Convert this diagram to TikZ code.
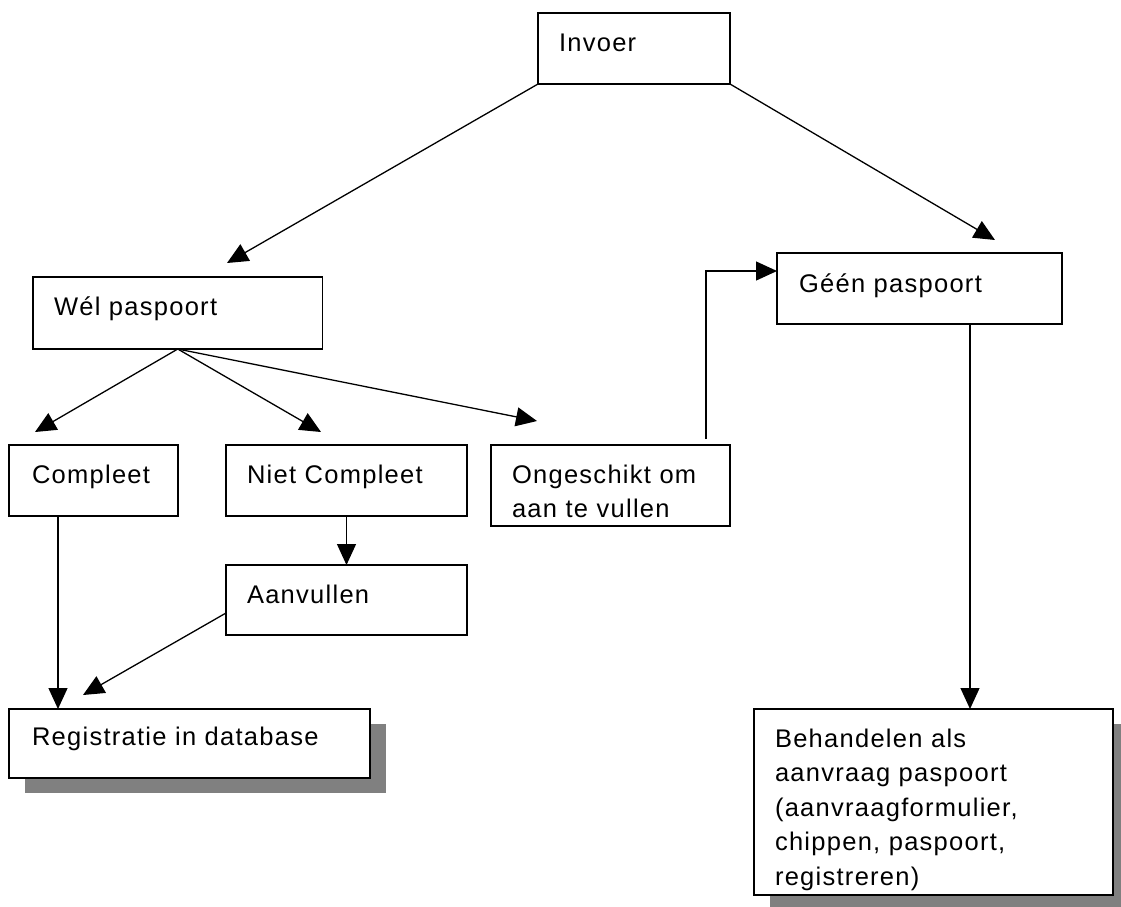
\documentclass[tikz,border=0pt]{standalone}
\usepackage{fontspec}
\setmainfont[LetterSpace=5]{Liberation Sans}
\usetikzlibrary{arrows.meta,calc,shadows}
\definecolor{shadowgray}{HTML}{808080}
\begin{document}
\begin{tikzpicture}[x=1pt,y=-1pt,
  box/.style={draw, line width=1.5pt, fill=white, anchor=north west, align=left,
    inner ysep=0pt, outer sep=0pt, inner xsep=21pt, text height=38pt, text depth=33pt,
    font=\fontsize{25.5pt}{34.5pt}\selectfont},
  conn/.style={line width=1.3pt, -{Triangle[length=21pt,width=19pt]}},
  shadowed/.style={drop shadow={shadow xshift=16pt, shadow yshift=-15pt, fill=shadowgray, opacity=1}}
]
\useasboundingbox (0,0) rectangle (1121,906);
\clip (0,0) rectangle (1121,906);

% boxes
\node[box, text width=150pt] (inv) at (538,13) {Invoer};
\node[box, text width=247.5pt, text depth=34pt] (wel) at (33,277) {Wél~paspoort};
\node[box, inner xsep=23pt, text width=123pt] (comp) at (9,445) {Compleet};
\node[box, text width=199pt] (niet) at (226,445) {Niet~Compleet};
\node[box, text width=199pt, text depth=32pt] (aan) at (226,565) {Aanvullen};
\node[box, text width=197pt, text depth=43pt] (ong) at (491,445) {Ongeschikt~om\\aan~te~vullen};
\node[box, inner xsep=22pt, text width=241pt, text height=39pt, text depth=32pt] (geen) at (777,253) {Géén~paspoort};
\node[box, shadowed, inner xsep=23pt, text width=315pt, text height=36pt] (reg) at (9,709) {Registratie~in~database};
\node[box, shadowed, text width=317pt, text depth=148pt] (beh) at (754,709)
  {Behandelen~als\\aanvraag~paspoort\\(aanvraagformulier,\\chippen,~paspoort,\\registreren)};

% free ends of connectors
\coordinate (t1) at (227,263);
\coordinate (t2) at (995,240);
\coordinate (t3) at (35,432);
\coordinate (t4) at (321,432);
\coordinate (t5) at (537,421);
\coordinate (t6) at (83,695);
\coordinate (c1) at ($(comp.south west)+(49,0)$);
\coordinate (o1) at ($(ong.north west)+(215,-6)$);
\coordinate (o2) at ($(geen.north west)+(0,18)$);
\coordinate (g1) at ($(geen.south west)+(193,0)$);
\coordinate (a1) at ($(aan.north west)+(0,48)$);

% connectors
\draw[conn] (inv.south west) -- (t1);
\draw[conn] (inv.south east) -- (t2);
\draw[conn] (wel.south) -- (t3);
\draw[conn] (wel.south) -- (t4);
\draw[conn] (wel.south) -- (t5);
\draw[conn] (niet.south) -- (aan.north);
\draw[conn] (c1) -- (c1 |- reg.north);
\draw[conn] (a1) -- (t6);
\draw[conn] (o1) |- (o2);
\draw[conn] (g1) -- (g1 |- beh.north);
\end{tikzpicture}
\end{document}
